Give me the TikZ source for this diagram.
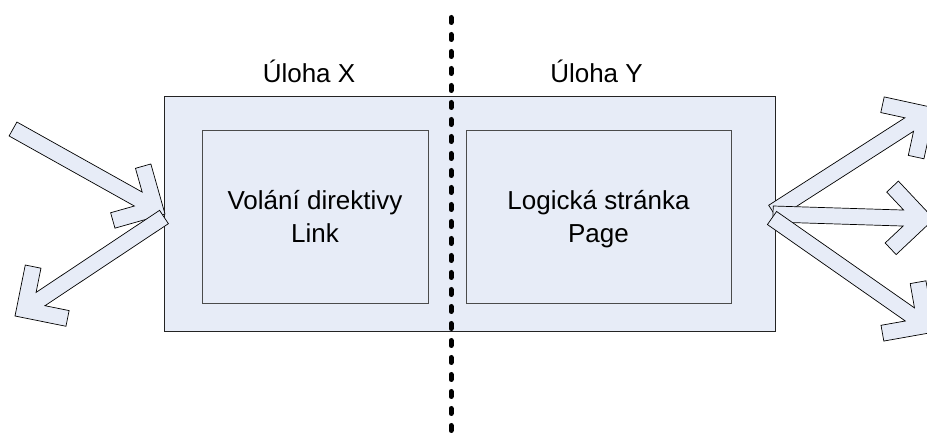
\documentclass[tikz,border=0pt]{standalone}
\usepackage{fontspec}
\setmainfont{Liberation Sans}
\usetikzlibrary{calc}

\definecolor{panel}{RGB}{231,236,247}
\definecolor{frameline}{RGB}{35,35,35}
\definecolor{boxline}{RGB}{75,75,75}

\tikzset{
  outerbox/.style={draw=frameline, fill=panel, line width=1pt,
    minimum width=611pt, minimum height=235pt, inner sep=0pt},
  innerbox/.style={draw=boxline, fill=panel, line width=0.9pt, inner sep=0pt,
    align=center, text depth=0pt, font=\fontsize{26}{33.5}\selectfont},
  caption/.style={font=\fontsize{26}{30}\selectfont, inner sep=0pt, anchor=base},
  blockarrow/.style={draw=black, fill=panel, line width=0.7pt, line join=miter},
  divider/.style={line width=5pt, line cap=round, dash pattern=on 5pt off 12pt},
}

% Hollow "line" arrow: a shaft 16pt wide ending in two thick barbs.
% #1 = tail coordinate (middle of the flat end), #2 = tip coordinate.
\newcommand{\hollowarrow}[2]{%
  \pgfpointdiff{\pgfpointanchor{#1}{center}}{\pgfpointanchor{#2}{center}}%
  \pgfgetlastxy{\hadx}{\hady}%
  \pgfmathsetmacro\haangle{atan2(\hady,\hadx)}%
  \pgfmathsetmacro\haback{-veclen(\hadx,\hady)}%
  \begin{scope}[shift={(#2)}, rotate=\haangle]
    \draw[blockarrow]
      (\haback pt, 8pt) -- (-30.63pt, 8pt) -- (-48.08pt, 25.45pt)
      -- (-36.76pt, 36.77pt) -- (0pt, 0pt) -- (-36.76pt, -36.77pt)
      -- (-48.08pt, -25.45pt) -- (-30.63pt, -8pt) -- (\haback pt, -8pt) -- cycle;
  \end{scope}%
}

\begin{document}
\begin{tikzpicture}[x=1pt, y=-1pt]
  \useasboundingbox (0,0) rectangle (927,435);
  \clip (0,0) rectangle (927,435);

  % task frame with its two parts
  \node[outerbox] (task) at (469.5,214.5) {};
  \node[innerbox, minimum width=226pt, minimum height=173pt] (linkcall) at (315,216.5)
    {Volání direktivy\\Link};
  \node[innerbox, minimum width=265pt, minimum height=173pt] (page) at (598.5,216.5)
    {Logická stránka\\Page};

  % task captions
  \node[caption] (taskX) at (309,83) {Úloha X};
  \node[caption] (taskY) at (596.5,83) {Úloha Y};

  % arrow end points
  \coordinate (inTail)   at (13,129);
  \coordinate (inTip)    at (165,214);
  \coordinate (outTail)  at (164,217);
  \coordinate (outTip)   at (15,316);
  \coordinate (rTail)    at (773,212);
  \coordinate (rUpTip)   at (935,108);
  \coordinate (rMidTail) at (773,214);
  \coordinate (rMidTip)  at (934,219);
  \coordinate (rLowTail) at (772,218);
  \coordinate (rLowTip)  at (935,332);

  \hollowarrow{inTail}{inTip}
  \hollowarrow{outTail}{outTip}
  \hollowarrow{rTail}{rUpTip}
  \hollowarrow{rMidTail}{rMidTip}
  \hollowarrow{rLowTail}{rLowTip}

  % dotted separator between the two tasks
  \coordinate (divTop) at (451,17.5);
  \coordinate (divBot) at (451,445);
  \draw[divider] (divTop) -- (divBot);
\end{tikzpicture}
\end{document}
